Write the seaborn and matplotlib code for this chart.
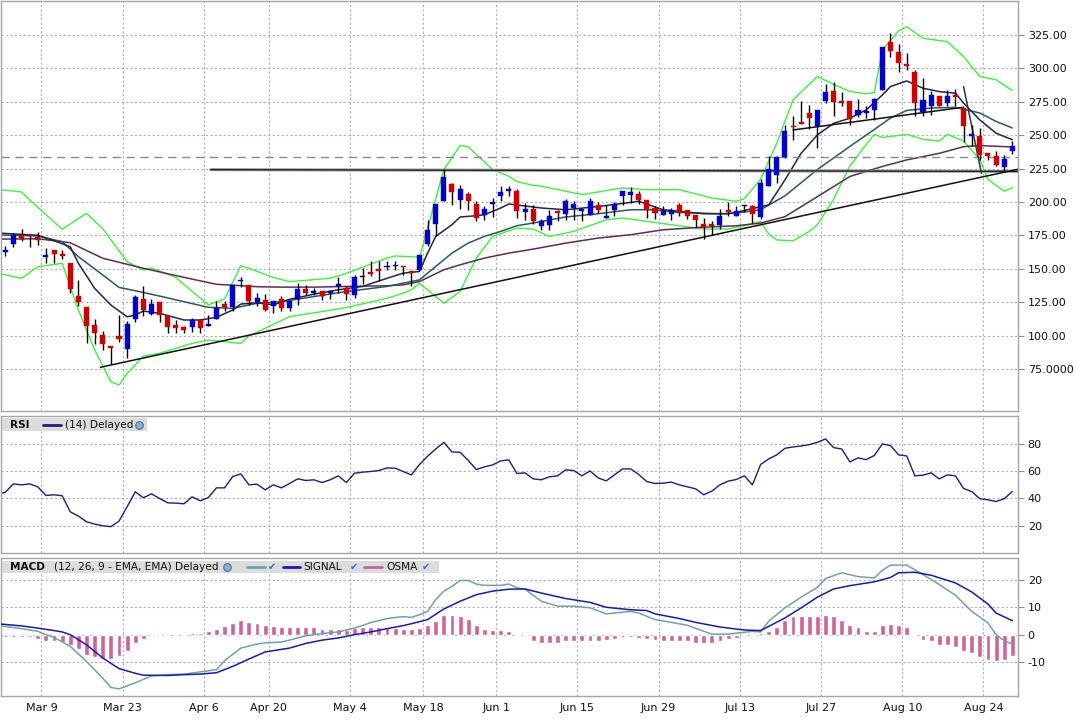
import numpy as np
import matplotlib
matplotlib.use("Agg")
import matplotlib.pyplot as plt
from matplotlib.patches import Rectangle
from matplotlib.lines import Line2D
import seaborn as sns

# ==========================================
# DATA: daily candles (index 0 = first visible session)
# ==========================================
opens = [162.5, 168.75, 175.5, 175, 174, 159, 163.75, 160.75, 154.25, 130,
         121.75, 108.25, 100.75, 92, 100, 90, 112.5, 127.75, 116.25, 125.5,
         115, 108.25, 106.25, 106.25, 111.5, 107, 112.5, 124, 121.5, 140.75,
         137.75, 125.25, 126.75, 122.5, 127.25, 121, 127.5, 135, 132.25, 133.5,
         132.25, 137.5, 135.5, 130.5, 144, 147.5, 150, 151, 151.75, 152.25,
         148.25, 148.75, 168.75, 183.5, 200.5, 213.5, 201.75, 206.25, 198.75, 190,
         198.5, 204.25, 208, 208, 192.25, 194.75, 181.75, 183, 193.5, 191.25,
         195.5, 193, 190.5, 198, 188, 194.25, 204.25, 205, 206.25, 201.75,
         195.5, 190.5, 191.25, 198, 193.75, 190.5, 183.75, 183.75, 183, 193.75,
         189.25, 196.75, 196.75, 188.7, 211.8, 220.5, 233.5, 257.1, 260.1, 266.5,
         257.1, 275.2, 283.2, 275.2, 275.7, 265.3, 266.5, 269, 284, 319.8,
         312.6, 303.1, 297.6, 267, 272, 279, 274, 280.2, 270.3, 249.4,
         249.1, 236.7, 234.7, 226, 237.9]
highs = [167, 177, 180, 175.75, 177.75, 165.25, 163.75, 164, 154.25, 142,
         121.75, 112.5, 103.75, 92, 115.75, 110.75, 130.25, 137.5, 127.75, 125.5,
         115, 112, 107.5, 113.25, 112.75, 115.25, 125.75, 125.75, 137.75, 143.75,
         137.75, 132, 131.25, 126, 129.75, 126, 139.25, 138, 135.5, 133.5,
         133.5, 143.5, 137.25, 145.5, 150.5, 155.5, 155.5, 155.5, 155.5, 152.25,
         148.25, 160.5, 186.75, 198.75, 224.75, 214.25, 212.5, 207.5, 200.5, 196.75,
         203, 212.25, 211.75, 209.5, 199.25, 198, 187.25, 194.25, 194.25, 202.5,
         200.5, 195, 203, 200, 198, 200, 208.5, 211, 208, 201.75,
         196.75, 196.75, 195.5, 199.25, 194.25, 190.5, 188, 185.5, 194.75, 200,
         196.75, 198, 198, 217.5, 234.2, 234.2, 257.8, 264.1, 275.2, 272.8,
         269, 288.4, 289.7, 282, 275.7, 277.2, 271.5, 277.7, 315.8, 326.7,
         318.3, 311.8, 298.9, 292.7, 282.7, 279, 284, 284.7, 270.3, 257.8,
         255.3, 236.7, 238, 235.4, 245.4]
lows = [159.5, 166, 170.75, 166.25, 167.5, 154.5, 154.5, 157, 131.75, 122,
        94.5, 94, 89, 79, 95.25, 83, 110.25, 114.5, 115.75, 110.25,
        102, 102, 101.75, 102.5, 102, 107, 112.5, 118.25, 118.25, 136.5,
        122.75, 122.5, 118.5, 116.75, 118.75, 118.75, 123, 130.25, 130.25, 126.75,
        127.25, 131.75, 126.75, 128, 138.75, 144.25, 141, 148.75, 148.75, 145,
        137.5, 148.75, 167.25, 174.75, 200.5, 197.5, 195, 193.75, 185.5, 186.25,
        188.75, 200.5, 204.25, 188, 186.75, 183.5, 178.75, 178.75, 185.5, 186.75,
        186.75, 186, 190.5, 191.75, 188, 189.25, 198, 199.25, 198.75, 188,
        187.5, 190.5, 186.25, 189.75, 187.5, 181.25, 172.25, 175, 179.75, 189.25,
        189.25, 192.5, 184.25, 187.4, 211.8, 214.3, 233, 246.1, 258.6, 254.6,
        240.4, 274, 264.1, 271.5, 257.8, 263.6, 262.8, 261.6, 284, 308.8,
        296.9, 298.9, 264, 264, 265.3, 272, 271.5, 272, 244.7, 241.7,
        231.7, 231.7, 226.7, 222.3, 236.2]
closes = [163.75, 175, 172.5, 174.5, 171.25, 160, 161.25, 159.5, 135, 125,
          107, 102, 94, 90.5, 97.5, 109, 128.75, 119, 124, 115.75,
          106.25, 105.5, 104.25, 112, 105.75, 108.75, 121, 121.25, 137.75, 142,
          125.75, 128.25, 119.25, 126, 121, 126, 135.25, 132.25, 133.5, 130,
          133.5, 138.75, 131.25, 143.75, 144, 146.25, 148, 152.25, 153, 151,
          147, 160.5, 179.25, 198.75, 218.5, 207.5, 210, 200.5, 188, 195,
          200, 207.5, 209.75, 193, 195, 186, 185.5, 189.75, 191.75, 200.5,
          198.75, 195, 201, 193.75, 189.75, 198.75, 208.5, 207.5, 201.75, 193.75,
          191.75, 193, 193.75, 191.75, 189.25, 186.75, 181.25, 182.25, 189.75, 192.5,
          193.5, 196.75, 191.25, 214.3, 225, 233.5, 252.9, 255.8, 258.6, 262.6,
          269, 282, 274.5, 274, 262.1, 269, 267.8, 277, 315.8, 313.3,
          303.9, 301.4, 274, 276.5, 280.2, 272, 279.5, 278.2, 256.6, 250.6,
          235.4, 234.2, 228, 232.5, 241.7]

# overlays (session index -> value)
bb_up_idx = [-1, 2, 3, 7, 10, 12, 15, 17, 18, 21, 25, 27, 29, 30, 33, 35, 40, 42, 47, 48,
             51, 54, 56, 57, 60, 62, 63, 65, 66, 70, 71, 75, 76, 79, 83, 87, 90, 91, 93, 95,
             97, 100, 102, 104, 106, 107, 108, 110, 111, 113, 116, 118, 120, 122, 124]
bb_up = [209.5, 207.5, 201.5, 179.6, 191.5, 180, 155.3, 149, 150.6, 143.5, 123, 127.5, 152.3, 150.4, 143.5, 140.4, 142.9, 146.6, 158, 159.6,
         158.75, 224.25, 242.25, 241.25, 224.25, 219.25, 215.2, 212.5, 211.8, 206.8, 205.5, 209.5, 210.5, 209.2, 209.2, 203, 200.5, 202.5, 217, 244.1,
         276.5, 293.9, 288, 282.7, 281, 282, 313.8, 328, 331.2, 322.5, 320, 308.8, 293.9, 291.4, 283.5]
bb_lo_idx = [-1, 0, 2, 4, 7, 9, 11, 13, 14, 15, 17, 19, 23, 25, 29, 30, 32, 35, 39, 42,
             47, 49, 50, 51, 54, 56, 58, 60, 63, 65, 67, 70, 74, 76, 79, 83, 86, 89, 91, 93,
             94, 95, 97, 99, 100, 102, 104, 106, 107, 108, 111, 113, 115, 116, 118, 120, 121, 123, 124]
bb_lo = [146.5, 145.5, 142.9, 151.6, 154.1, 119.2, 89.2, 65.5, 63, 71.8, 84.7, 86.8, 94.2, 96.7, 94.2, 99.8, 105.5, 114.2, 118, 121,
         128, 131.75, 134.25, 139.25, 124.25, 133, 158, 174.25, 180.5, 179.75, 174.2, 178, 186.7, 188, 185.5, 182.2, 179.8, 179.8, 182.2, 185.5,
         176, 171.6, 171, 178, 183, 202.2, 226.9, 243.1, 250.6, 248.3, 250.6, 246.9, 245.6, 250.6, 245.6, 231.7, 216.8, 208.1, 210.6]
ma_fast_idx = [-1, 4, 6, 8, 9, 11, 13, 15, 16, 17, 19, 22, 24, 26, 28, 29, 31, 33, 35, 38,
               41, 44, 47, 49, 51, 52, 53, 55, 56, 58, 59, 61, 62, 66, 69, 73, 77, 78, 81, 83,
               86, 89, 90, 93, 94, 96, 98, 100, 102, 104, 106, 108, 109, 111, 113, 115, 117, 118, 120, 122, 124]
ma_fast = [176.8, 175.1, 171, 166.5, 154.1, 135.4, 122.9, 114.1, 115.4, 118.4, 116.7, 111.7, 111.7, 113.7, 119.2, 123.6, 124.6, 123, 127.2, 131,
           134.3, 136.8, 142.9, 146.75, 148, 161.75, 174.25, 183, 188.75, 189.75, 190.5, 195.5, 198.5, 195.5, 194.2, 196.6, 199.7, 200.5, 194.2, 193,
           191.2, 191.2, 192.2, 196.5, 197.8, 216.5, 236.5, 250.2, 258.9, 262.7, 268.9, 280.1, 286.4, 290.6, 285.1, 282.6, 281.4, 274, 261.4, 251.5, 246.6]
ma_mid_idx = [-1, 4, 7, 9, 12, 14, 16, 19, 22, 25, 28, 31, 34, 38, 42, 47, 49, 51, 53, 55,
              57, 59, 61, 63, 65, 69, 73, 77, 80, 83, 88, 90, 93, 96, 100, 104, 107, 109, 111, 114,
              117, 120, 122, 124]
ma_mid = [175.4, 174.6, 170.3, 159.1, 145.4, 136.1, 133.6, 129.6, 125.4, 121.2, 120.4, 124.2, 125.4, 129.2, 133, 136.8, 139.25, 141.75, 151.75, 161.75,
          169.25, 174.25, 178, 182.25, 184.25, 188.8, 191.2, 194.2, 194.2, 192.2, 191.2, 191.7, 194.2, 204.6, 224.3, 241.6, 254.2, 262.8, 268.5, 270.3,
          270.8, 266.6, 260.3, 255.4]
ma_slow_idx = [-1, 4, 8, 12, 17, 22, 26, 29, 31, 34, 38, 42, 47, 49, 51, 54, 56, 59, 62, 65,
               69, 73, 77, 81, 86, 90, 93, 96, 100, 104, 108, 111, 115, 118, 120, 124]
ma_slow = [172.2, 172.5, 169.5, 157.9, 150.4, 143.6, 138.4, 137.4, 136.6, 136.3, 136.3, 136.8, 137.3, 138, 140.5, 149.25, 153, 158, 161.75, 164.75,
           169.2, 173, 175.5, 179.2, 181.2, 182.2, 184.2, 189, 204, 219.1, 226.6, 231.5, 236.4, 241.4, 242.2, 241.2]

# drawn lines on the price panel
support_x, support_y = [11.7, 124.7], [76.3, 224.5]
top_line_x, top_line_y = [97.0, 118.0], [253.9, 270.9]
steep_x, steep_y = [118.0, 120.2], [286.3, 221.5]
resist_x, resist_y = [25.3, 124.7], [224.2, 222.9]
dashed_level = 233.7

# RSI (14), one value per session starting at index -1
rsi = [42.9,
       44.6, 50.7, 50.0, 50.7, 48.5, 42.2, 42.7, 42.0, 30.2, 27.1,
       22.9, 21.2, 20.0, 19.3, 23.4, 33.9, 44.9, 40.5, 43.4, 40.0,
       36.8, 36.6, 36.1, 41.2, 38.3, 40.7, 47.8, 47.8, 56.1, 58.0,
       50.0, 50.5, 46.3, 50.0, 47.8, 51.0, 54.4, 53.2, 53.7, 51.7,
       53.7, 56.6, 51.7, 58.5, 59.3, 59.8, 60.5, 62.4, 62.2, 59.8,
       57.3, 64.9, 71.0, 76.3, 81.2, 74.1, 73.9, 68.0, 61.2, 63.2,
       64.6, 67.6, 68.3, 58.3, 58.8, 54.4, 53.7, 55.9, 56.6, 61.0,
       60.5, 56.6, 60.2, 55.1, 52.9, 57.3, 61.7, 61.7, 57.6, 52.4,
       51.0, 51.2, 52.0, 50.0, 48.5, 47.1, 42.7, 45.4, 50.0, 52.7,
       53.9, 56.6, 50.0, 64.9, 69.0, 72.0, 76.8, 77.8, 78.5, 79.5,
       81.2, 83.7, 77.3, 76.3, 66.8, 69.8, 68.5, 71.5, 80.0, 78.8,
       72.0, 71.2, 56.6, 57.1, 58.8, 54.4, 57.3, 56.6, 47.3, 45.1,
       39.8, 39.0, 37.8, 39.8, 45.1]

# MACD (12, 26, 9)
osma = [-1.0, -1.0, -1.0, -1.0, -1.5, -2.2, -2.4, -2.7, -3.9, -5.4,
        -7.3, -8.3, -8.9, -8.9, -7.9, -6.1, -3.2, -1.7, -0.2, 0.0,
        0.0, 0.0, 0.0, 0.7, 0.7, 1.2, 2.2, 3.0, 4.4, 5.4,
        4.8, 4.4, 3.5, 3.2, 2.7, 2.7, 2.9, 2.9, 2.7, 2.2,
        2.2, 2.2, 1.8, 2.4, 2.7, 2.9, 2.9, 2.9, 2.4, 2.2,
        2.0, 2.3, 3.4, 5.1, 7.1, 7.3, 6.8, 5.9, 3.7, 2.1,
        1.8, 1.8, 1.5, 0.0, -0.6, -2.2, -2.9, -3.2, -3.2, -2.4,
        -2.4, -2.2, -2.2, -2.2, -2.1, -1.5, -1.0, -1.0, -1.2, -1.7,
        -2.0, -2.2, -2.2, -2.4, -2.4, -2.9, -3.2, -3.2, -2.4, -1.5,
        -1.2, -0.6, -0.6, 0.5, 1.5, 2.7, 5.5, 6.7, 7.0, 7.0,
        7.0, 7.3, 6.7, 5.5, 3.7, 2.7, 1.5, 1.5, 3.4, 4.0,
        3.7, 2.7, 0.0, -1.8, -2.4, -3.9, -3.9, -4.4, -5.9, -6.8,
        -8.3, -9.1, -9.5, -9.1, -7.9]
macd_idx = [-1, 2, 4, 5, 6, 8, 10, 12, 13, 14, 16, 18, 20, 22, 24, 26, 27, 29, 31, 32,
            34, 35, 37, 39, 41, 43, 45, 47, 49, 50, 51, 52, 53, 54, 55, 56, 57, 58, 59, 60,
            61, 62, 63, 64, 66, 68, 70, 72, 74, 77, 78, 80, 82, 84, 87, 89, 92, 93, 94, 96,
            98, 100, 101, 103, 105, 107, 108, 109, 111, 113, 115, 117, 119, 121, 122, 123, 124]
macd = [3.4, 2.2, 1.2, 0, -1.0, -4.3, -9.8, -15.9, -19.3, -19.8, -17.6, -15.1, -14.6, -14.4, -13.6, -12.8, -9.5, -4.9, -3.4, -3.0,
        -2.7, -2.0, -0.4, 0.4, 1.0, 2.4, 4.4, 5.9, 6.6, 6.3, 7.3, 8.5, 12.8, 15.9, 17.6, 19.8, 19.8, 18.5, 18.0, 18.0,
        18.0, 18.5, 17.1, 16.6, 12.2, 10.4, 10.4, 9.8, 7.6, 8.5, 7.9, 5.5, 4.5, 3.4, 0.2, 0.2, 1.2, 1.0, 4.9, 9.8,
        13.7, 17.3, 20.5, 22.6, 21.2, 20.7, 23.5, 25.4, 25.4, 22.0, 18.3, 14.4, 8.5, 4.3, 0, -2.2, -3.4]
signal_idx = [-1, 2, 4, 6, 7, 8, 10, 12, 14, 16, 17, 20, 22, 24, 26, 28, 30, 32, 35, 37,
              39, 41, 43, 45, 47, 49, 50, 52, 54, 56, 58, 60, 62, 64, 66, 69, 72, 74, 77, 79,
              80, 83, 85, 88, 91, 93, 94, 96, 98, 100, 102, 104, 107, 109, 110, 112, 114, 117, 119, 121,
              122, 124]
signal = [4.0, 3.2, 2.4, 1.5, 1.0, 0, -3.7, -8.5, -12.4, -14.1, -14.8, -14.9, -14.6, -14.4, -13.9, -11.6, -8.9, -6.3, -4.9, -3.2,
          -2.0, -1.2, 0, 1.0, 2.2, 3.3, 4.0, 5.5, 9.4, 12.2, 14.6, 15.9, 16.6, 16.7, 15.2, 13.2, 11.8, 10.0, 9.1, 8.8,
          7.6, 5.9, 4.5, 2.8, 1.7, 1.5, 3.0, 6.1, 9.8, 13.7, 16.7, 17.9, 19.3, 20.9, 22.6, 22.8, 21.7, 18.9, 15.6, 11.2,
          7.9, 5.1]

tick_idx = [4, 14, 24, 32, 42, 51, 60, 70, 80, 90, 100, 110, 120]
tick_labels = ["Mar 9", "Mar 23", "Apr 6", "Apr 20", "May 4", "May 18", "Jun 1",
               "Jun 15", "Jun 29", "Jul 13", "Jul 27", "Aug 10", "Aug 24"]
price_ticks = [75, 100, 125, 150, 175, 200, 225, 250, 275, 300, 325]
price_tick_labels = ["75.0000", "100.00", "125.00", "150.00", "175.00", "200.00",
                     "225.00", "250.00", "275.00", "300.00", "325.00"]

# ==========================================
# STYLE / LAYOUT
# ==========================================
sns.set_theme(style="white")
plt.rcParams['font.family'] = ['DejaVu Sans']

W, H = 1076, 721
fig = plt.figure(figsize=(W / 100, H / 100), dpi=100)


def box(left, top, right, bottom):
    return [left / W, 1 - bottom / H, (right - left) / W, (bottom - top) / H]


ax_p = fig.add_axes(box(1, 1, 1018, 411))
ax_r = fig.add_axes(box(1, 416, 1018, 553))
ax_m = fig.add_axes(box(1, 558, 1018, 696))


def style_axis(ax, yticks, ylabels, ylim):
    ax.set_xlim(-0.53, 124.7)
    ax.set_ylim(*ylim)
    ax.yaxis.tick_right()
    ax.set_yticks(yticks)
    ax.set_yticklabels(ylabels)
    ax.set_xticks([t + 0.45 for t in tick_idx])
    ax.set_xticklabels(tick_labels)
    ax.grid(True, color='#b0b0b0', linestyle=(0, (2, 2)), linewidth=0.8)
    ax.tick_params(axis='y', length=4, width=0.8, color='#8c8c8c', labelsize=8,
                   pad=3, labelcolor='#111111', right=True, left=False)
    ax.tick_params(axis='x', length=0, labelbottom=False, pad=5, labelsize=8, labelcolor='#111111')
    for s in ax.spines.values():
        s.set_color('#a6a6a6')
        s.set_linewidth(1.0)
    ax.set_xlabel('')
    ax.set_ylabel('')
    ax.set_axisbelow(True)


def draw_line(ax, xs, ys, color, lw=1.0, z=2):
    sns.lineplot(x=xs, y=ys, ax=ax, color=color, linewidth=lw,
                 estimator=None, sort=False, zorder=z)


# ==========================================
# PRICE PANEL
# ==========================================
days = np.arange(len(closes))
o, h, l, c = (np.array(v, dtype=float) for v in (opens, highs, lows, closes))

draw_line(ax_p, bb_up_idx, bb_up, '#3ff03f', 1.0)
draw_line(ax_p, bb_lo_idx, bb_lo, '#3ff03f', 1.0)
draw_line(ax_p, ma_slow_idx, ma_slow, '#5a2f52', 1.1)
draw_line(ax_p, ma_mid_idx, ma_mid, '#2b5858', 1.1)
draw_line(ax_p, ma_fast_idx, ma_fast, '#23234f', 1.1)

ax_p.axhline(dashed_level, color='#8a8a8a', linestyle=(0, (6, 4)), linewidth=1.0, zorder=2)
ax_p.plot(resist_x, resist_y, color='#9a9a9a', linewidth=2.2, zorder=2)
ax_p.plot(resist_x, resist_y, color='#1a1a1a', linewidth=0.9, zorder=2)
ax_p.plot(support_x, support_y, color='#111111', linewidth=1.1, zorder=2)
ax_p.plot(top_line_x, top_line_y, color='#111111', linewidth=1.1, zorder=2)
ax_p.plot(steep_x, steep_y, color='#333333', linewidth=1.1, zorder=2)

cols = np.where(c > o, '#0000c8', np.where(c < o, '#cc0000', '#000000'))
ax_p.vlines(days, l, h, color='black', linewidth=1.0, zorder=3)
body_h = np.maximum(np.abs(c - o), 0.9)
ax_p.bar(days, body_h, bottom=np.minimum(o, c), width=0.62, color=cols,
         edgecolor=cols, linewidth=0.3, zorder=4)

style_axis(ax_p, price_ticks, price_tick_labels, (43.6, 350.4))

# ==========================================
# RSI PANEL
# ==========================================
draw_line(ax_r, list(range(-1, len(rsi) - 1)), rsi, '#1e1e78', 1.0)
style_axis(ax_r, [20, 40, 60, 80], ['20', '40', '60', '80'], (0, 100.5))

# ==========================================
# MACD PANEL
# ==========================================
sns.barplot(x=days, y=osma, ax=ax_m, native_scale=True, color='#cc6699',
            width=0.6, saturation=1, zorder=2)
draw_line(ax_m, macd_idx, macd, '#6fa3a0', 1.1, 3)
draw_line(ax_m, signal_idx, signal, '#1b1ba8', 1.1, 3)
style_axis(ax_m, [-10, 0, 10, 20], ['-10', '0', '10', '20'], (-22.4, 28))
ax_m.tick_params(axis='x', labelbottom=True)

# ==========================================
# PANEL HEADERS (pixel positions)
# ==========================================
def fx(x):
    return x / W


def fy(y):
    return 1 - y / H


def header_box(x0, y0, x1, y1):
    fig.add_artist(Rectangle((fx(x0), fy(y1)), fx(x1) - fx(x0), fy(y0) - fy(y1),
                             transform=fig.transFigure, facecolor='#dcdcdc',
                             edgecolor='none', zorder=5))


def header_text(x, y, s, bold=False, size=7.6):
    fig.text(fx(x), fy(y), s, fontsize=size, fontweight='bold' if bold else 'normal',
             ha='left', va='center', color='#111111', zorder=6)


def header_line(x0, x1, y, color):
    fig.add_artist(Line2D([fx(x0), fx(x1)], [fy(y), fy(y)], transform=fig.transFigure,
                          color=color, linewidth=2.0, zorder=6))


def globe(x, y):
    fig.add_artist(Line2D([fx(x)], [fy(y)], transform=fig.transFigure, marker='o',
                          markersize=5.5, markerfacecolor='#8fb0d0',
                          markeredgecolor='#4b6f96', markeredgewidth=0.8, zorder=6))


def check(x, y):
    fig.text(fx(x), fy(y), '\u2714', fontsize=7, color='#1f6fd8',
             ha='center', va='center', zorder=6)


header_box(2, 418, 147, 431)
header_text(10, 424.5, 'RSI', bold=True)
header_line(43, 61, 424.5, '#1e1e78')
header_text(65, 424.5, '(14) Delayed')
globe(139, 424.5)

header_box(2, 561, 439, 573)
header_text(10, 567, 'MACD', bold=True)
header_text(54, 567, '(12, 26, 9 - EMA, EMA) Delayed')
globe(227, 567)
header_line(247, 265, 567, '#6fa3a0')
check(272, 567)
header_line(283, 300, 567, '#1b1ba8')
header_text(303, 567, 'SIGNAL')
check(354, 567)
header_line(364, 382, 567, '#cc6699')
header_text(386, 567, 'OSMA')
check(426, 567)

fig.savefig('out.png', dpi=100, facecolor='white')
